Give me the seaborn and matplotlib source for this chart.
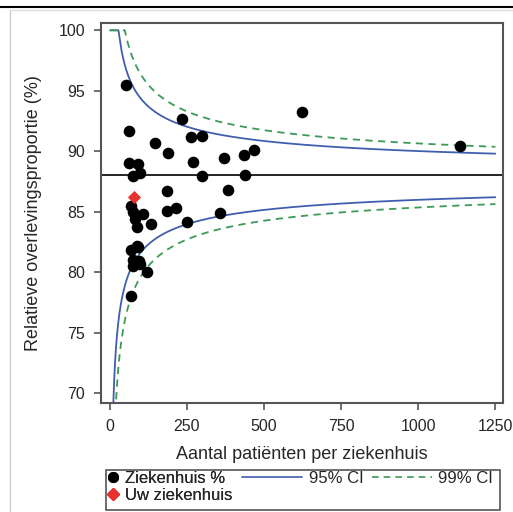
import numpy as np
import pandas as pd
import matplotlib
matplotlib.use("Agg")
import matplotlib.pyplot as plt
from matplotlib.lines import Line2D
from matplotlib.patches import Rectangle
import seaborn as sns

# hospital data
patients = [52, 622, 1137, 234, 63, 264, 298, 146, 190, 271, 370, 434, 469,
            62, 93, 76, 98, 300, 438, 184, 382, 70, 76, 108, 81, 135, 87,
            89, 186, 215, 250, 357, 92, 70, 95, 76, 97, 119, 70, 74]
survival = [95.44, 93.21, 90.47, 92.65, 91.69, 91.20, 91.28, 90.66, 89.89,
            89.09, 89.45, 89.67, 90.12, 89.04, 88.96, 87.99, 88.18, 87.96,
            88.07, 86.72, 86.80, 85.50, 84.95, 84.80, 84.40, 83.98, 83.70,
            82.20, 85.03, 85.31, 84.12, 84.90, 82.10, 81.80, 80.94, 80.50,
            80.67, 79.98, 78.05, 81.00]
own_patients = [80]
own_survival = [86.19]

target = 88.0
z95 = 1.96
z99 = 2.576
n_grid = np.arange(1, 1251)

df = pd.DataFrame({'n': patients, 'pct': survival})
own = pd.DataFrame({'n': own_patients, 'pct': own_survival})

se = np.sqrt(target * (100 - target) / n_grid)
limits = pd.DataFrame({
    'n': n_grid,
    'up95': np.clip(target + z95 * se, 0, 100),
    'lo95': np.clip(target - z95 * se, 0, 100),
    'up99': np.clip(target + z99 * se, 0, 100),
    'lo99': np.clip(target - z99 * se, 0, 100),
})

sns.set_style("ticks")
plt.rcParams['font.family'] = ['Liberation Sans', 'DejaVu Sans']

blue = '#3f5fae'
green = '#3b9a55'
red = '#e8302c'
frame = '#555555'

fig = plt.figure(figsize=(5.13, 5.12), dpi=100)
ax = fig.add_axes([0.196, 0.212, 0.784, 0.743])

ax.axhline(target, color='black', lw=1.2, zorder=1)
for col in ['up95', 'lo95']:
    sns.lineplot(data=limits, x='n', y=col, ax=ax, color=blue, lw=1.3, zorder=2)
for col in ['up99', 'lo99']:
    sns.lineplot(data=limits, x='n', y=col, ax=ax, color=green, lw=1.3,
                 zorder=2).lines[-1].set_dashes([4, 3])

sns.scatterplot(data=df, x='n', y='pct', ax=ax, color='black', s=70,
                edgecolor='black', linewidth=0, zorder=3)
sns.scatterplot(data=own, x='n', y='pct', ax=ax, color=red, marker='D',
                s=45, edgecolor=red, linewidth=0, zorder=4)

ax.set_xlim(-30, 1274)
ax.set_ylim(69.15, 100.6)
ax.set_xticks([0, 250, 500, 750, 1000, 1250])
ax.set_yticks([70, 75, 80, 85, 90, 95, 100])
ax.set_xlabel('Aantal patiënten per ziekenhuis', fontsize=13, labelpad=9)
ax.set_ylabel('Relatieve overlevingsproportie (%)', fontsize=13, labelpad=12)
ax.tick_params(labelsize=11.5, length=5, width=1.2, color=frame, pad=6)
for sp in ax.spines.values():
    sp.set_color(frame)
    sp.set_linewidth(1.5)

# legend box below the axes
fig.add_artist(Rectangle((106 / 513, 1 - 510 / 512), 394 / 513, 40 / 512,
                         transform=fig.transFigure, fill=False,
                         edgecolor=frame, lw=1.2))
leg_kw = dict(fontsize=12, frameon=False, borderpad=0, borderaxespad=0,
              labelspacing=0.1, handletextpad=0.4, loc='upper left')
dots = [Line2D([], [], color='black', marker='o', ls='none', markersize=7),
        Line2D([], [], color=red, marker='D', ls='none', markersize=6)]
leg1 = fig.legend(dots, ['Ziekenhuis %', 'Uw ziekenhuis'], handlelength=0.6,
                  bbox_to_anchor=(108 / 513, 1 - 471 / 512), **leg_kw)
lines = [Line2D([], [], color=blue, lw=1.2),
         Line2D([], [], color=green, lw=1.2, dashes=[4, 3])]
leg2 = fig.legend(lines, ['95% CI', '99% CI'], handlelength=3.6, ncol=2,
                  columnspacing=0.5,
                  bbox_to_anchor=(242 / 513, 1 - 471 / 512), **leg_kw)
fig.add_artist(leg1)

# outer decoration lines of the original screenshot
fig.add_artist(Line2D([0, 1], [1 - 7 / 512, 1 - 7 / 512], color='black', lw=1.5))
fig.add_artist(Line2D([10 / 513, 10 / 513], [0, 1 - 10 / 512], color='#cccccc', lw=1))
fig.add_artist(Line2D([10 / 513, 1], [1 - 10 / 512, 1 - 10 / 512], color='#dddddd', lw=1))

fig.savefig('out.png', dpi=100)
